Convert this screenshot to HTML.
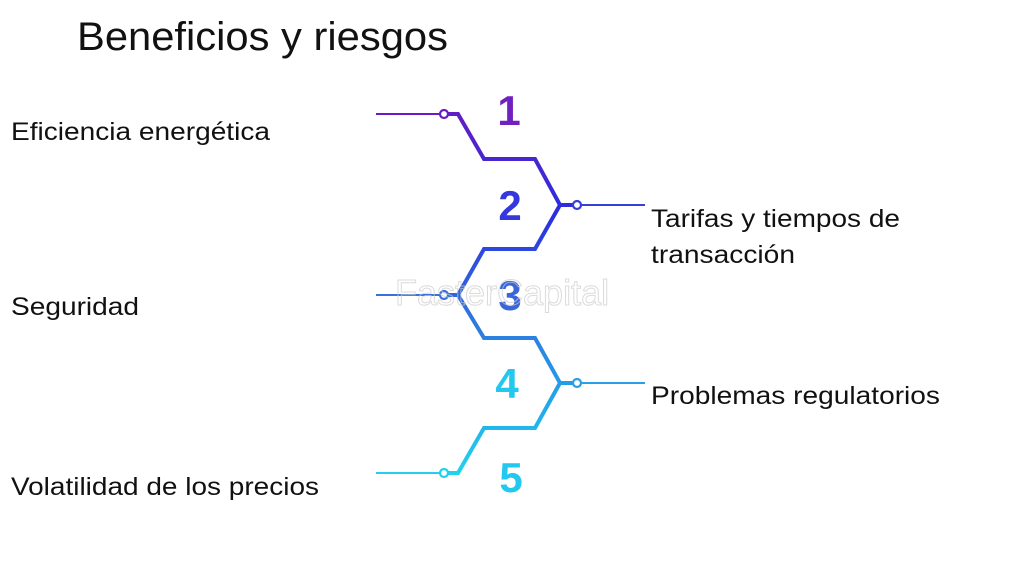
<!DOCTYPE html>
<html><head><meta charset="utf-8"><style>
html,body{margin:0;padding:0;background:#fff;}
body{width:1024px;height:572px;overflow:hidden;}
svg text{font-family:"Liberation Sans",Arial,sans-serif;}
</style></head><body>
<svg width="1024" height="572" viewBox="0 0 1024 572" xmlns="http://www.w3.org/2000/svg">
<defs>
<linearGradient id="g" x1="0" y1="100" x2="0" y2="480" gradientUnits="userSpaceOnUse">
<stop offset="0" stop-color="#6a1cc0"/>
<stop offset="0.3" stop-color="#2a2ee0"/>
<stop offset="0.55" stop-color="#3070dd"/>
<stop offset="0.8" stop-color="#22a8e8"/>
<stop offset="1" stop-color="#1fd6ef"/>
</linearGradient>
</defs>
<text x="77" y="50" font-size="40" fill="#111" textLength="371" lengthAdjust="spacingAndGlyphs">Beneficios y riesgos</text>
<g font-size="25" fill="#111">
<text x="11" y="140" textLength="259" lengthAdjust="spacingAndGlyphs">Eficiencia energética</text>
<text x="11" y="315" textLength="128" lengthAdjust="spacingAndGlyphs">Seguridad</text>
<text x="11" y="495" textLength="308" lengthAdjust="spacingAndGlyphs">Volatilidad de los precios</text>
<text x="651" y="227" textLength="249" lengthAdjust="spacingAndGlyphs">Tarifas y tiempos de</text>
<text x="651" y="263" textLength="144" lengthAdjust="spacingAndGlyphs">transacción</text>
<text x="651" y="404" textLength="289" lengthAdjust="spacingAndGlyphs">Problemas regulatorios</text>
</g>
<g fill="none" stroke="url(#g)">
<g stroke-width="2">
<line x1="376" y1="114" x2="440" y2="114" stroke="#6a1cc0"/>
<line x1="580" y1="205" x2="645" y2="205" stroke="#3540d8"/>
<line x1="376" y1="295" x2="440" y2="295" stroke="#3a70dd"/>
<line x1="580" y1="383" x2="645" y2="383" stroke="#2a9ee6"/>
<line x1="376" y1="473" x2="440" y2="473" stroke="#22d0ee"/>
</g>
<path stroke-width="4" stroke-linejoin="miter" d="M447 114 H458 L484 159 H535 L560 205 L535 249 H484 L458 295 L484 338 H535 L560 383 L535 428 H484 L458 473 H447"/>
<path stroke-width="4" d="M560 205 H573 M560 383 H573 M447 295 H458"/>
<g stroke-width="2.2" fill="#fff">
<circle cx="444" cy="114" r="4" stroke="#6a1cc0"/>
<circle cx="577" cy="205" r="4" stroke="#3540d8"/>
<circle cx="444" cy="295" r="4" stroke="#3a70dd"/>
<circle cx="577" cy="383" r="4" stroke="#2a9ee6"/>
<circle cx="444" cy="473" r="4" stroke="#22d0ee"/>
</g>
</g>
<g font-size="42" font-weight="bold" text-anchor="middle">
<text x="509" y="125" fill="#7020c0">1</text>
<text x="510" y="220" fill="#3538dd">2</text>
<text x="510" y="310" fill="#3a66d8">3</text>
<text x="507" y="398" fill="#22c8ee">4</text>
<text x="511" y="492" fill="#22c8ee">5</text>
</g>
<text x="395" y="305" font-size="36" fill="none" stroke="#ccc" stroke-width="1" opacity="0.7">FasterCapital</text>
</svg>
</body></html>
